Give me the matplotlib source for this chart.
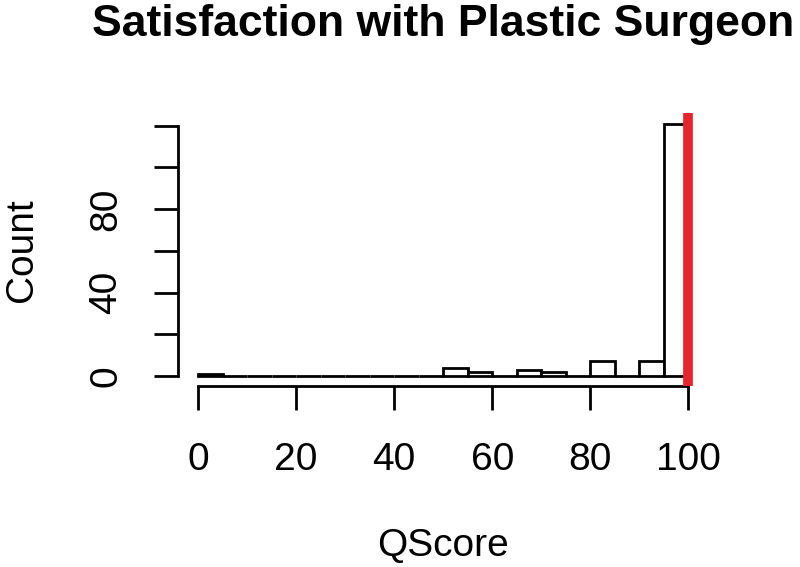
import matplotlib
matplotlib.use("Agg")
import matplotlib.pyplot as plt
import numpy as np

plt.rcParams['font.family'] = ['Liberation Sans', 'DejaVu Sans']

# histogram bins (width 5) and counts
bin_left = list(range(0, 100, 5))
counts = [1, 0, 0, 0, 0, 0, 0, 0, 0, 0, 4, 2, 0, 3, 2, 0, 7, 0, 7, 121]
ref_line = 100
y_ticks = [0, 20, 40, 60, 80, 100, 120]
y_labels = ["0", "", "40", "", "80", "", ""]
x_ticks = [0, 20, 40, 60, 80, 100]

fig = plt.figure(figsize=(8, 5.67), dpi=100)
ax = fig.add_axes([0.223, 0.319, 0.662, 0.481])

ax.bar(bin_left, counts, width=5, align='edge', color='white',
       edgecolor='black', linewidth=2)
ax.axvline(ref_line, color='#e8242b', linewidth=7, zorder=5)

ax.set_xlim(-4, 104)
ax.set_ylim(-0.04 * max(counts), 1.04 * max(counts))

for s in ['top', 'right']:
    ax.spines[s].set_visible(False)
ax.spines['left'].set_bounds(0, 120)
ax.spines['bottom'].set_bounds(0, 100)
ax.spines['left'].set_linewidth(2)
ax.spines['bottom'].set_linewidth(2)

ax.set_xticks(x_ticks)
ax.set_yticks(y_ticks)
ax.set_yticklabels(y_labels, rotation=90, va='center')
ax.tick_params(length=17, width=2, labelsize=28)
ax.tick_params(axis='x', pad=23)
ax.tick_params(axis='y', pad=22)

ax.set_title("Satisfaction with Plastic Surgeon", fontsize=32,
             fontweight='bold', pad=56)
ax.set_xlabel("QScore", fontsize=28, labelpad=36)
ax.set_ylabel("Count", fontsize=28, labelpad=35)

fig.savefig("out.png", dpi=100)
